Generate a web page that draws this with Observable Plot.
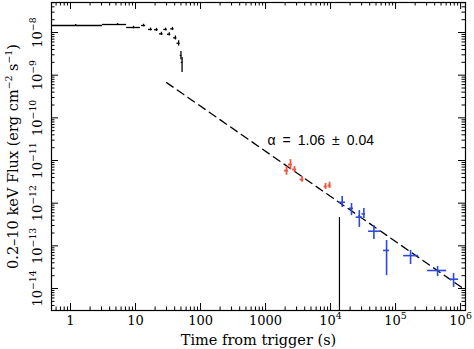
<!DOCTYPE html>
<html><head><meta charset="utf-8">
<script src="https://cdn.jsdelivr.net/npm/d3@7"></script>
<script src="https://cdn.jsdelivr.net/npm/@observablehq/plot@0.6"></script>
<style>body{margin:0;background:#fff}</style>
</head><body><div id="chart"></div>
<script>
// BAT (black) points: time, time range, flux, flux range
const batT   = [1.2, 5.3, 9.3, 13.3, 17, 21, 25, 29, 33, 37, 41, 46, 50, 52];
const batTlo = [0.51, 3.1, 7.3, 12.4, 15.8, 19.6, 23.4, 27.2, 31, 34.8, 38.6, 43.5, 48.5, 50.5];
const batThi = [3.1, 7.3, 11.9, 14.3, 18.2, 22.4, 26.6, 30.8, 35, 39.2, 43.4, 48.5, 51.5, 53.5];
const batF   = [1.46e-8, 1.54e-8, 1.31e-8, 1.46e-8, 1.18e-8, 1.16e-8, 0.93e-8, 1.18e-8, 0.91e-8, 1.22e-8, 0.75e-8, 0.56e-8, 2.9e-9, 2.0e-9];
const batFlo = [1.38e-8, 1.46e-8, 1.22e-8, 1.36e-8, 1.09e-8, 1.07e-8, 0.85e-8, 1.09e-8, 0.83e-8, 1.12e-8, 0.67e-8, 0.48e-8, 2.3e-9, 1.15e-9];
const batFhi = [1.54e-8, 1.62e-8, 1.40e-8, 1.56e-8, 1.27e-8, 1.25e-8, 1.01e-8, 1.27e-8, 0.99e-8, 1.32e-8, 0.83e-8, 0.64e-8, 3.6e-9, 2.6e-9];

// red points
const redT   = [2100, 2420, 2790, 3640, 8370, 9650];
const redTlo = [1950, 2250, 2600, 3400, 7950, 9150];
const redThi = [2260, 2600, 3000, 3900, 8800, 10150];
const redF   = [5.8e-12, 8.05e-12, 6.15e-12, 3.59e-12, 2.46e-12, 2.6e-12];
const redFlo = [4.5e-12, 6.2e-12, 5.3e-12, 3.1e-12, 2.1e-12, 2.2e-12];
const redFhi = [7.2e-12, 1.05e-11, 7.2e-12, 4.2e-12, 2.9e-12, 3.1e-12];

// blue points
const bluT   = [15100, 21000, 27700, 32500, 46400, 72700, 170000, 443000, 780000];
const bluTlo = [13300, 19500, 24800, 30500, 38400, 65400, 133000, 311000, 677000];
const bluThi = [17000, 22500, 31100, 34500, 58800, 80900, 226000, 609000, 931000];
const bluF   = [1.05e-12, 7.6e-13, 4.7e-13, 5.6e-13, 2.2e-13, 7.8e-14, 5.9e-14, 2.64e-14, 1.65e-14];
const bluFlo = [7.9e-13, 5.1e-13, 2.7e-13, 4.4e-13, 1.41e-13, 2.0e-14, 3.65e-14, 1.91e-14, 1.06e-14];
const bluFhi = [1.44e-12, 9.8e-13, 6.7e-13, 7.5e-13, 3.0e-13, 1.33e-13, 7.8e-14, 3.3e-14, 2.25e-14];

// power-law fit endpoints
const fitT = [30, 1.1e6];
const fitF = [6.7e-10, 1.0e-14];

// vertical marker line
const markT = [13700];
const markTop = [4.6e-13];

// annotation
const noteT = [1072];
const noteF = [2.94e-11];
const noteText = ["α\u2002=\u20021.06\u2002±\u20020.04"];

// axes
const xDomain = [0.51, 1.19e6];
const yDomain = [3.05e-15, 5.05e-8];
const xMajor = [1, 10, 100, 1000, 1e4, 1e5, 1e6];
const xLabels = ["1", "10", "100", "1000", "10⁴", "10⁵", "10⁶"];
const yMajor = [1e-8, 1e-9, 1e-10, 1e-11, 1e-12, 1e-13, 1e-14];
const yLabels = ["10⁻⁸", "10⁻⁹", "10⁻¹⁰", "10⁻¹¹", "10⁻¹²", "10⁻¹³", "10⁻¹⁴"];
const minorMult = [2, 3, 4, 5, 6, 7, 8, 9];

const xMinor = [], yMinor = [];
for (let k = -1; k <= 6; k++) for (const m of minorMult) { const v = m * 10 ** k; if (v >= xDomain[0] && v <= xDomain[1]) xMinor.push(v); }
for (let k = -15; k <= -8; k++) for (const m of minorMult) { const v = m * 10 ** k; if (v >= yDomain[0] && v <= yDomain[1]) yMinor.push(v); }

const W = 474, H = 349, mL = 51, mR = 9, mT = 2, mB = 39;
const iw = W - mL - mR, ih = H - mT - mB;
const majL = 7, minL = 3.5;

const red = "#f2553f", blue = "#2c49df";
const idx = a => a.map((_, i) => i);

function errMarks(T, Tlo, Thi, F, Flo, Fhi, color, sw) {
  const I = idx(T);
  return [
    Plot.ruleX(I, {x: i => T[i], y1: i => Flo[i], y2: i => Fhi[i], stroke: color, strokeWidth: sw}),
    Plot.ruleY(I, {y: i => F[i], x1: i => Tlo[i], x2: i => Thi[i], stroke: color, strokeWidth: sw})
  ];
}

const chart = Plot.plot({
  width: W, height: H,
  marginLeft: mL, marginRight: mR, marginTop: mT, marginBottom: mB,
  style: {fontFamily: "'DejaVu Serif', serif", fontSize: "12px", background: "#fff", color: "#000"},
  x: {type: "log", domain: xDomain, axis: null},
  y: {type: "log", domain: yDomain, axis: null},
  marks: [
    // ticks
    Plot.tickX(xMajor, {x: d => d, insetTop: ih - majL, stroke: "#000"}),
    Plot.tickX(xMajor, {x: d => d, insetBottom: ih - majL, stroke: "#000"}),
    Plot.tickX(xMinor, {x: d => d, insetTop: ih - minL, stroke: "#000"}),
    Plot.tickX(xMinor, {x: d => d, insetBottom: ih - minL, stroke: "#000"}),
    Plot.tickY(yMajor, {y: d => d, insetRight: iw - majL, stroke: "#000"}),
    Plot.tickY(yMajor, {y: d => d, insetLeft: iw - majL, stroke: "#000"}),
    Plot.tickY(yMinor, {y: d => d, insetRight: iw - minL, stroke: "#000"}),
    Plot.tickY(yMinor, {y: d => d, insetLeft: iw - minL, stroke: "#000"}),
    // tick labels
    Plot.text(idx(xMajor), {x: i => xMajor[i], text: i => xLabels[i], frameAnchor: "bottom", dy: 5, lineAnchor: "top", fontSize: 13}),
    Plot.text(idx(yMajor), {y: i => yMajor[i], text: i => yLabels[i], frameAnchor: "left", dx: -14, rotate: -90, textAnchor: "middle", fontSize: 13}),
    // axis titles
    Plot.text(["Time from trigger (s)"], {frameAnchor: "bottom", dy: 30, lineAnchor: "middle", text: d => d, fontSize: 14.5}),
    Plot.text(["0.2–10 keV Flux (erg cm⁻² s⁻¹)"], {frameAnchor: "left", dx: -38, rotate: -90, textAnchor: "middle", lineAnchor: "middle", text: d => d, fontSize: 14.5}),
    // fit line
    Plot.line(idx(fitT), {x: i => fitT[i], y: i => fitF[i], stroke: "#000", strokeWidth: 1.3, strokeDasharray: "8,5"}),
    // marker line
    Plot.ruleX(idx(markT), {x: i => markT[i], y1: i => markTop[i], y2: () => yDomain[0], stroke: "#000", strokeWidth: 1.2}),
    // data
    ...errMarks(batT, batTlo, batThi, batF, batFlo, batFhi, "#000", 1.3),
    ...errMarks(redT, redTlo, redThi, redF, redFlo, redFhi, red, 1.8),
    ...errMarks(bluT, bluTlo, bluThi, bluF, bluFlo, bluFhi, blue, 1.6),
    // annotation
    Plot.text(idx(noteT), {x: i => noteT[i], y: i => noteF[i], text: i => noteText[i], textAnchor: "start", fontFamily: "'Liberation Sans', Arial, sans-serif", fontSize: 14}),
    Plot.frame({stroke: "#000", strokeWidth: 1.2})
  ]
});

// render unicode superscripts as raised tspans
const supMap = {"⁻":"−","⁰":"0","¹":"1","²":"2","³":"3","⁴":"4","⁵":"5","⁶":"6","⁷":"7","⁸":"8","⁹":"9"};
const NS = "http://www.w3.org/2000/svg";
chart.querySelectorAll("text").forEach(t => {
  if (t.querySelector("tspan")) return;
  const s = t.textContent;
  if (![...s].some(c => supMap[c])) return;
  const fs = parseFloat(t.getAttribute("font-size") || getComputedStyle(t).fontSize) || 13;
  const runs = [];
  for (const c of s) {
    const sup = !!supMap[c];
    const ch = sup ? supMap[c] : c;
    if (runs.length && runs[runs.length - 1].sup === sup) runs[runs.length - 1].txt += ch;
    else runs.push({sup, txt: ch});
  }
  t.textContent = "";
  let raised = false;
  const shift = fs * 0.45;
  for (const r of runs) {
    const ts = document.createElementNS(NS, "tspan");
    ts.textContent = r.txt;
    if (r.sup) { ts.setAttribute("font-size", fs * 0.72); ts.setAttribute("dy", -shift); raised = true; }
    else if (raised) { ts.setAttribute("dy", shift); raised = false; }
    t.appendChild(ts);
  }
});
document.getElementById("chart").appendChild(chart);
</script>
</body></html>
